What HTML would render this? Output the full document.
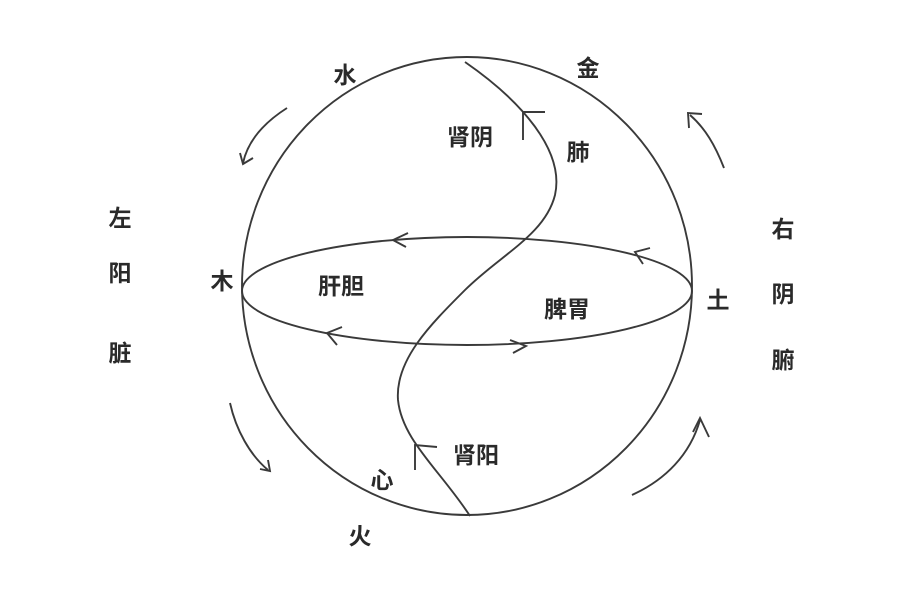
<!DOCTYPE html>
<html><head><meta charset="utf-8"><style>
html,body{margin:0;padding:0;background:#fff;}
svg text{font-family:"Liberation Sans","Noto Sans CJK SC",sans-serif;font-size:23px;font-weight:bold;fill:#2a2a2a;text-anchor:middle;dominant-baseline:central;}
</style></head><body>
<svg width="900" height="600" viewBox="0 0 900 600" xmlns="http://www.w3.org/2000/svg">
<g fill="none" stroke="#3a3a3a" stroke-width="1.9">
<ellipse cx="467" cy="286" rx="225" ry="229"/>
<ellipse cx="467" cy="291" rx="225" ry="54"/>
<path d="M465,62 C520,100 565,150 555,195 C545,235 500,255 465,290 C430,325 395,360 398,400 C402,440 440,470 470,516"/>
<path d="M523,140 L523,112 L545,112"/>
<path d="M415,470 L415,445 L437,447"/>
<path d="M408,233 L393,240 L406,247"/>
<path d="M650,248 L635,252 L643,264"/>
<path d="M342,327 L327,333 L337,345"/>
<path d="M510,340 L526,346 L513,353"/>
<path d="M287,108 C265,122 248,140 243,163"/>
<path d="M240,153 L243,164 L253,158"/>
<path d="M724,168 C715,145 705,128 690,115"/>
<path d="M689,128 L688,113 L702,114"/>
<path d="M230,403 C236,430 250,455 268,470"/>
<path d="M260,469 L270,471 L268,460"/>
<path d="M632,495 C665,480 690,455 700,420"/>
<path d="M693,432 L700,418 L709,437"/>
</g>
<text x="345" y="75">水</text>
<text x="588" y="68">金</text>
<text x="470" y="137">肾阴</text>
<text x="578" y="152">肺</text>
<text x="120" y="218">左</text>
<text x="120" y="273">阳</text>
<text x="120" y="353">脏</text>
<text x="222" y="281">木</text>
<text x="341" y="286">肝胆</text>
<text x="567" y="309">脾胃</text>
<text x="718" y="300">土</text>
<text x="783" y="229">右</text>
<text x="783" y="294">阴</text>
<text x="783" y="360">腑</text>
<text x="476" y="455">肾阳</text>
<text x="382" y="480">心</text>
<text x="360" y="536">火</text>
</svg>
</body></html>
